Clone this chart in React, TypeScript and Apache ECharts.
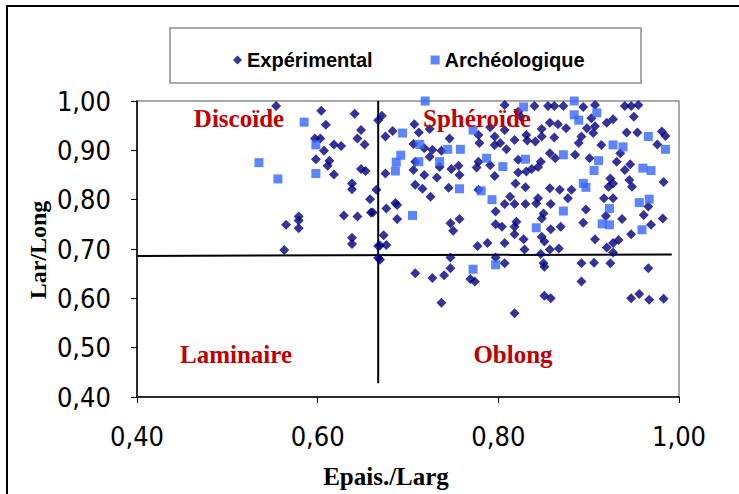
import React, { useEffect, useRef } from "react";
import * as echarts from "echarts";

const xTicks = { min: 0.4, max: 1.0, interval: 0.2 };
const yTicks = { min: 0.4, max: 1.0, interval: 0.1 };

const seriesNames = ["Expérimental", "Archéologique"];

const experimental: [number, number][] = [
  [0.554, 0.99], [0.604, 0.98], [0.641, 0.974], [0.609, 0.952], [0.648, 0.941], [0.644, 0.924],
  [0.652, 0.912], [0.597, 0.924], [0.603, 0.924], [0.618, 0.912], [0.626, 0.909], [0.607, 0.899],
  [0.598, 0.882], [0.613, 0.879], [0.611, 0.869], [0.618, 0.851], [0.648, 0.862], [0.653, 0.858],
  [0.638, 0.833], [0.638, 0.821], [0.665, 0.82], [0.658, 0.801], [0.659, 0.774], [0.629, 0.768],
  [0.644, 0.766], [0.579, 0.766], [0.579, 0.758], [0.565, 0.749], [0.579, 0.742], [0.638, 0.723],
  [0.638, 0.71], [0.563, 0.698], [0.667, 0.706], [0.667, 0.682],
  [0.671, 0.97], [0.667, 0.961], [0.675, 0.928], [0.683, 0.939], [0.707, 0.953], [0.712, 0.936],
  [0.724, 0.943], [0.706, 0.913], [0.718, 0.904], [0.727, 0.901], [0.724, 0.887], [0.746, 0.924],
  [0.737, 0.899], [0.708, 0.877], [0.706, 0.86], [0.718, 0.85], [0.732, 0.845], [0.735, 0.866],
  [0.748, 0.862], [0.756, 0.869], [0.757, 0.85], [0.675, 0.853], [0.708, 0.83], [0.716, 0.822],
  [0.725, 0.806], [0.745, 0.824], [0.686, 0.793], [0.776, 0.865],
  [0.807, 0.992], [0.84, 0.99], [0.855, 0.99], [0.862, 0.99], [0.872, 0.99], [0.822, 0.978],
  [0.825, 0.968], [0.857, 0.956], [0.866, 0.953], [0.791, 0.947], [0.807, 0.941], [0.848, 0.943],
  [0.875, 0.945], [0.831, 0.931], [0.848, 0.928], [0.862, 0.926], [0.892, 0.928], [0.796, 0.928],
  [0.778, 0.931], [0.818, 0.921], [0.832, 0.92], [0.841, 0.918], [0.802, 0.915], [0.796, 0.911],
  [0.809, 0.902], [0.889, 0.915], [0.779, 0.915], [0.857, 0.894], [0.885, 0.891], [0.863, 0.884],
  [0.822, 0.881], [0.847, 0.877], [0.778, 0.877], [0.791, 0.87], [0.844, 0.866], [0.837, 0.862],
  [0.831, 0.857], [0.796, 0.848], [0.822, 0.855], [0.819, 0.833], [0.83, 0.825], [0.857, 0.823],
  [0.868, 0.82], [0.881, 0.82], [0.813, 0.806], [0.844, 0.803], [0.877, 0.803], [0.778, 0.82],
  [0.894, 0.988], [0.907, 0.992], [0.94, 0.99], [0.947, 0.99], [0.955, 0.992], [0.95, 0.968],
  [0.903, 0.965], [0.92, 0.956], [0.927, 0.963], [0.898, 0.945], [0.907, 0.949], [0.905, 0.935],
  [0.942, 0.936], [0.954, 0.936], [0.981, 0.938], [0.985, 0.929], [0.914, 0.911], [0.976, 0.912],
  [0.935, 0.894], [0.901, 0.884], [0.931, 0.877], [0.946, 0.872], [0.94, 0.86], [0.924, 0.843],
  [0.927, 0.833], [0.945, 0.84], [0.948, 0.826], [0.983, 0.836], [0.922, 0.826], [0.917, 0.803],
  [0.927, 0.803],
  [0.676, 0.782], [0.688, 0.789], [0.661, 0.774], [0.688, 0.761], [0.747, 0.752], [0.75, 0.737],
  [0.757, 0.761], [0.673, 0.728], [0.669, 0.707], [0.676, 0.708], [0.777, 0.706], [0.669, 0.678],
  [0.747, 0.683], [0.747, 0.661], [0.74, 0.647], [0.727, 0.641], [0.708, 0.651], [0.769, 0.639],
  [0.774, 0.634], [0.737, 0.591],
  [0.807, 0.791], [0.818, 0.791], [0.83, 0.791], [0.842, 0.792], [0.858, 0.791], [0.797, 0.776],
  [0.85, 0.772], [0.848, 0.762], [0.82, 0.755], [0.818, 0.745], [0.797, 0.75], [0.804, 0.745],
  [0.869, 0.745], [0.858, 0.74], [0.818, 0.73], [0.828, 0.72], [0.848, 0.725], [0.851, 0.715],
  [0.788, 0.712], [0.807, 0.712], [0.829, 0.699], [0.857, 0.699], [0.867, 0.701], [0.847, 0.69],
  [0.797, 0.683], [0.807, 0.671], [0.85, 0.671], [0.851, 0.664], [0.892, 0.634], [0.851, 0.605],
  [0.858, 0.6], [0.818, 0.57], [0.892, 0.671],
  [0.897, 0.78], [0.961, 0.769], [0.966, 0.786], [0.919, 0.767], [0.894, 0.753], [0.937, 0.761],
  [0.982, 0.762], [0.969, 0.749], [0.947, 0.73], [0.907, 0.72], [0.933, 0.718], [0.927, 0.712],
  [0.92, 0.703], [0.927, 0.693], [0.906, 0.672], [0.924, 0.671], [0.966, 0.661], [0.947, 0.6],
  [0.956, 0.609], [0.967, 0.597], [0.983, 0.599],
];

const archeologique: [number, number][] = [
  [0.585, 0.957], [0.598, 0.911], [0.535, 0.875], [0.556, 0.842], [0.598, 0.853],
  [0.719, 1.0], [0.694, 0.935], [0.713, 0.912], [0.692, 0.89], [0.687, 0.876], [0.686, 0.858],
  [0.712, 0.877], [0.735, 0.877], [0.744, 0.902], [0.758, 0.902], [0.757, 0.822], [0.772, 0.941],
  [0.884, 1.0], [0.828, 0.988], [0.884, 0.972], [0.889, 0.961], [0.83, 0.882], [0.872, 0.891],
  [0.805, 0.867], [0.787, 0.884], [0.781, 0.818], [0.793, 0.8],
  [0.909, 0.976], [0.966, 0.928], [0.985, 0.902], [0.927, 0.911], [0.938, 0.907], [0.911, 0.879],
  [0.906, 0.859], [0.96, 0.864], [0.969, 0.859], [0.894, 0.833], [0.897, 0.825], [0.956, 0.794],
  [0.967, 0.801],
  [0.705, 0.768], [0.772, 0.659], [0.872, 0.777], [0.842, 0.743], [0.797, 0.668], [0.923, 0.782],
  [0.915, 0.751], [0.923, 0.749], [0.959, 0.739],
];

const horizontalDivider: [number, number][] = [[0.4, 0.686], [0.992, 0.689]];
const verticalDivider: [number, number][] = [[0.667, 0.428], [0.667, 1.0]];

const quadrantLabels = ["Discoïde", "Sphéroïde", "Laminaire", "Oblong"];
const axisTitles = { x: "Epais./Larg", y: "Lar/Long" };

const fmt = (v: number) => v.toFixed(2).replace(".", ",");

export default function App() {
  const ref = useRef<HTMLDivElement>(null);
  useEffect(() => {
    if (!ref.current) return;
    const chart = echarts.init(ref.current, null, { renderer: "svg" });
    const tickFont = {
      fontFamily: "'Liberation Sans Narrow', 'DejaVu Sans Condensed', sans-serif",
      fontSize: 27,
      color: "#000",
    };
    const qStyle = (text: string, x: number, y: number) => ({
      type: "text",
      x,
      y,
      style: {
        text,
        align: "center",
        verticalAlign: "middle",
        fontFamily: "'Liberation Serif', 'Times New Roman', serif",
        fontWeight: "bold",
        fontSize: 25,
        fill: "#C00000",
      },
      z: 10,
    });
    chart.setOption({
      animation: false,
      backgroundColor: "#fff",
      grid: { left: 137, right: 60, top: 101, bottom: 97, show: true, borderColor: "#8c8c8c", borderWidth: 1.5 },
      legend: {
        data: seriesNames,
        left: 228,
        top: 45,
        itemWidth: 9,
        itemHeight: 9,
        itemGap: 58,
        textStyle: { fontFamily: "'Liberation Sans', Arial, sans-serif", fontWeight: "bold", fontSize: 20, color: "#000" },
      },
      xAxis: {
        type: "value",
        min: xTicks.min,
        max: xTicks.max,
        interval: xTicks.interval,
        splitLine: { show: false },
        axisLine: { lineStyle: { color: "#000", width: 1.5 } },
        axisTick: { show: true, length: 6, lineStyle: { color: "#000" } },
        axisLabel: { ...tickFont, margin: 26, formatter: fmt },
      },
      yAxis: {
        type: "value",
        min: yTicks.min,
        max: yTicks.max,
        interval: yTicks.interval,
        splitLine: { show: false },
        axisLine: { show: true, lineStyle: { color: "#000", width: 1.5 } },
        axisTick: { show: true, length: 6, lineStyle: { color: "#000" } },
        axisLabel: { ...tickFont, margin: 26, formatter: fmt },
      },
      graphic: [
        { type: "rect", shape: { x: 7, y: 6, width: 800, height: 600 }, style: { fill: "none", stroke: "#000", lineWidth: 2 }, silent: true },
        { type: "rect", shape: { x: 170, y: 28, width: 471, height: 55 }, style: { fill: "none", stroke: "#8c8c8c", lineWidth: 1.5 }, silent: true },
        qStyle(quadrantLabels[0], 239, 118),
        qStyle(quadrantLabels[1], 477, 118),
        qStyle(quadrantLabels[2], 236, 354),
        qStyle(quadrantLabels[3], 513, 354),
        {
          type: "text",
          x: 386,
          y: 476,
          style: {
            text: axisTitles.x,
            align: "center",
            verticalAlign: "middle",
            fontFamily: "'Liberation Serif', 'Times New Roman', serif",
            fontWeight: "bold",
            fontSize: 25,
            fill: "#000",
          },
        },
        {
          type: "text",
          x: 38,
          y: 250,
          rotation: Math.PI / 2,
          style: {
            text: axisTitles.y,
            align: "center",
            verticalAlign: "middle",
            fontFamily: "'Liberation Serif', 'Times New Roman', serif",
            fontWeight: "bold",
            fontSize: 24,
            fill: "#000",
          },
        },
      ],
      series: [
        {
          name: "hline",
          type: "line",
          data: horizontalDivider,
          symbol: "none",
          lineStyle: { color: "#000", width: 2 },
          silent: true,
          z: 1,
        },
        {
          name: "vline",
          type: "line",
          data: verticalDivider,
          symbol: "none",
          lineStyle: { color: "#000", width: 2 },
          silent: true,
          z: 1,
        },
        {
          name: seriesNames[0],
          type: "scatter",
          data: experimental,
          symbol: "diamond",
          symbolSize: [10, 10],
          itemStyle: { color: "#000080" },
          z: 2,
        },
        {
          name: seriesNames[1],
          type: "scatter",
          data: archeologique,
          symbol: "rect",
          symbolSize: 9,
          itemStyle: { color: "#3366FF" },
          z: 3,
        },
      ],
    });
    return () => chart.dispose();
  }, []);
  return (
    <div
      ref={ref}
      style={{ position: "absolute", left: 0, top: 0, width: 739, height: 494, background: "#fff" }}
    />
  );
}
